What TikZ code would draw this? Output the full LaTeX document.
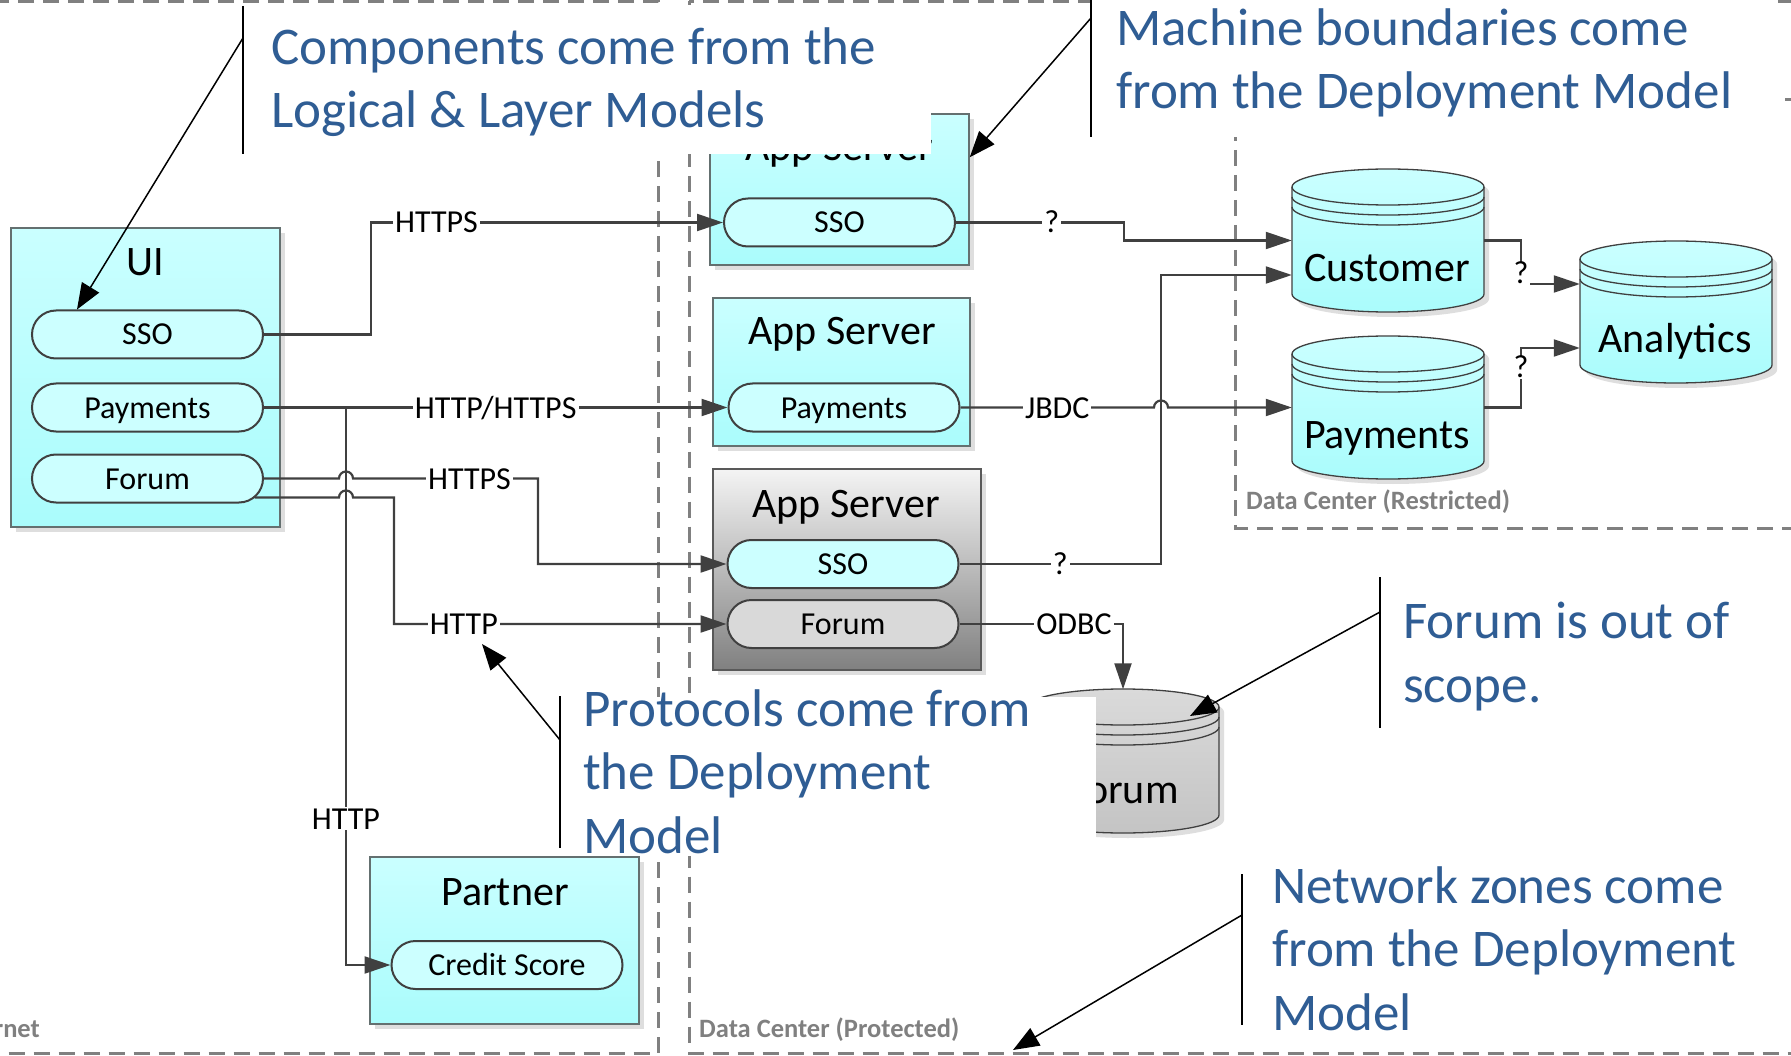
\documentclass[tikz,border=0pt]{standalone}
\usepackage{fontspec}
\setmainfont{Carlito}
\usetikzlibrary{arrows.meta,calc,shadows}

\definecolor{zonegray}{RGB}{128,128,128}
\definecolor{linegray}{RGB}{64,64,64}
\definecolor{cyantop}{RGB}{202,255,255}
\definecolor{cyanbot}{RGB}{170,252,252}
\definecolor{pillcyan}{RGB}{204,255,255}
\definecolor{boxedge}{RGB}{100,112,112}
\definecolor{noteblue}{RGB}{47,93,148}
\definecolor{greytop}{RGB}{244,244,244}
\definecolor{greybot}{RGB}{128,128,128}
\definecolor{pillgrey}{RGB}{217,217,217}
\definecolor{dbgreytop}{RGB}{218,218,218}
\definecolor{dbgreybot}{RGB}{196,196,196}
\definecolor{shadowgrey}{RGB}{222,222,222}

% database cylinder: left x, top y, right x, bottom y, top colour, bottom colour
\newcommand{\dbcyl}[6]{%
  \fill[shadowgrey] ({#1+5},{-(#2+18)-5}) -- ({#1+5},{-(#4-18)-5})
    arc[start angle=180,end angle=360,x radius={(#3-#1)/2},y radius=18]
    -- ({#3+5},{-(#2+18)-5})
    arc[start angle=0,end angle=180,x radius={(#3-#1)/2},y radius=18] -- cycle;
  \draw[cylline,top color=#5,bottom color=#6] ({#1},{-(#2+18)}) -- ({#1},{-(#4-18)})
    arc[start angle=180,end angle=360,x radius={(#3-#1)/2},y radius=18]
    -- ({#3},{-(#2+18)})
    arc[start angle=0,end angle=180,x radius={(#3-#1)/2},y radius=18] -- cycle;
  \foreach \cyldrop in {18,28,38}
    \draw[cylline] ({#1},{-(#2+\cyldrop)})
      arc[start angle=180,end angle=360,x radius={(#3-#1)/2},y radius=18];
}

\begin{document}
\begin{tikzpicture}[x=1pt,y=1pt,
  zone/.style={draw=zonegray, line width=3pt, dash pattern=on 16pt off 9pt},
  zonelabel/.style={text=zonegray, font=\fontsize{26.5}{30}\selectfont\bfseries, inner sep=0pt},
  shade/.style={drop shadow={shadow xshift=5pt, shadow yshift=-5pt, fill=shadowgrey, opacity=1}},
  cbox/.style={shade, draw=boxedge, line width=1.5pt, top color=cyantop, bottom color=cyanbot, inner sep=0pt},
  gbox/.style={shade, draw=black!65, line width=1.5pt, top color=greytop, bottom color=greybot, inner sep=0pt},
  title/.style={font=\fontsize{42}{48}\selectfont, inner sep=0pt, anchor=base},
  pill/.style={draw=linegray, line width=2pt, fill=pillcyan, rounded corners=24pt,
    minimum width=231pt, minimum height=48pt, inner sep=0pt,
    font=\fontsize{32}{36}\selectfont, text height=21pt, text depth=0pt},
  dbbox/.style={minimum width=192pt, minimum height=143pt, inner sep=0pt},
  cylline/.style={draw=linegray, line width=1.3pt},
  conn/.style={draw=linegray, line width=2.2pt, -{Triangle[length=26pt,width=17pt]}},
  lbl/.style={fill=white, inner xsep=2pt, inner ysep=1pt, font=\fontsize{32}{36}\selectfont,
    text height=21pt, text depth=0pt},
  note/.style={text=noteblue, font=\fontsize{53}{63.5}\selectfont, align=left, inner sep=0pt},
  bar/.style={draw=black, line width=1.5pt},
  pointer/.style={draw=black, line width=1.5pt, -{Triangle[length=26pt,width=20pt]}}
]
\useasboundingbox (0,0) rectangle (1791,-1056);
\clip (0,0) rectangle (1791,-1056);
\fill[white] (0,0) rectangle (1791,-1056);

% ---------- network zones ----------
\draw[zone] (-40,-1.5) rectangle (658,-1053);
\draw[zone] (689,-1.5) rectangle (1840,-1053);
\draw[zone] (1235,-100) rectangle (1840,-528);
\node[zonelabel, anchor=base east] (inetlbl) at (40,-1037) {Internet};
\node[zonelabel, anchor=base west] (protlbl) at (699,-1037) {Data Center (Protected)};
\node[zonelabel, anchor=base west] (restlbl) at (1246,-509) {Data Center (Restricted)};

% ---------- machines ----------
\node[cbox, minimum width=269pt, minimum height=299pt] (ui) at (145.5,-377.5) {};
\node[title] (uit) at (145,-276) {UI};
\node[pill] (uisso) at (147.5,-334.5) {SSO};
\node[pill] (uipay) at (147.5,-407.5) {Payments};
\node[pill] (uiforum) at (147.5,-478.5) {Forum};

\node[cbox, minimum width=259pt, minimum height=151pt] (as1) at (839.5,-189.5) {};
\node[title] (as1t) at (839,-161) {App Server};
\node[pill] (as1sso) at (839.5,-222.5) {SSO};

\node[cbox, minimum width=257pt, minimum height=148pt] (as2) at (841.5,-372) {};
\node[title] (as2t) at (842,-345) {App Server};
\node[pill] (as2pay) at (844,-407.5) {Payments};

\node[gbox, minimum width=268pt, minimum height=201pt] (as3) at (847,-569.5) {};
\node[title] (as3t) at (846,-517) {App Server};
\node[pill] (as3sso) at (843,-564) {SSO};
\node[pill, fill=pillgrey] (as3forum) at (843,-624) {Forum};

\node[cbox, minimum width=269pt, minimum height=167pt] (partner) at (504.5,-940.5) {};
\node[title] (partnert) at (505,-905) {Partner};
\node[pill] (crscore) at (507,-965) {Credit Score};

% ---------- databases ----------
\dbcyl{1292}{169}{1484}{312}{cyantop}{cyanbot}
\node[dbbox] (cust) at (1388,-240.5) {};
\node[title] (custt) at (1387,-282) {Customer};

\dbcyl{1292}{336}{1484}{479}{cyantop}{cyanbot}
\node[dbbox] (pcyl) at (1388,-407.5) {};
\node[title] (pcylt) at (1387,-448) {Payments};

\dbcyl{1580}{241}{1772}{383}{cyantop}{cyanbot}
\node[dbbox] (ana) at (1676,-312) {};
\node[title] (anat) at (1675,-353) {Analytics};

\dbcyl{1027}{689}{1219}{833}{dbgreytop}{dbgreybot}
\node[dbbox] (fcyl) at (1123,-761) {};
\node[title] (fcylt) at (1123,-803) {Forum};

% ---------- connectors ----------
\draw[conn] (uisso.east) -- ++(107,0) |- node[lbl,pos=0.593]{HTTPS} (as1sso.west);
\draw[conn] (uipay.east) -- node[lbl]{HTTP/HTTPS} (as2pay.west);
\coordinate (split) at (346,-407.5);
\draw[conn] (split) |- node[lbl,pos=0.369]{HTTP} (crscore.west);

\draw[conn] (uiforum.east) -- (339,-478.5) arc[start angle=180,end angle=0,radius=7]
  -- node[lbl,pos=0.63]{HTTPS} (538,-478.5) |- (as3sso.west);
\coordinate (uiforumlow) at ($(uiforum.east)+(-9.5,-19)$);
\draw[conn] (uiforumlow) -- (339,-497.5) arc[start angle=180,end angle=0,radius=7]
  -- (394,-497.5) |- node[lbl,pos=0.605]{HTTP} (as3forum.west);

\draw[conn] (as1sso.east) -- node[lbl,pos=0.57]{?} (1124,-222.5) |- (cust.west);
\coordinate (custin) at ($(cust.west)+(0,-34.5)$);
\draw[conn] (as3sso.east) -- node[lbl]{?} (1161,-564) |- (custin);
\draw[conn] (as2pay.east) -- node[lbl]{JBDC} (1154,-407.5) arc[start angle=180,end angle=0,radius=7]
  -- (pcyl.west);
\draw[conn] (as3forum.east) -- node[lbl,pos=0.7]{ODBC} (as3forum.east -| fcyl.north) -- (fcyl.north);

\coordinate (anain1) at ($(ana.west)+(0,28)$);
\coordinate (anain2) at ($(ana.west)+(0,-36)$);
\draw[conn] (cust.east) -- (1521,-240.5) -- node[lbl,pos=0.75]{?} (1521,-284) -- (anain1);
\draw[conn] (pcyl.east) -- (1521,-407.5) -- node[lbl,pos=0.68]{?} (1521,-348) -- (anain2);

% ---------- callouts (multi-line notes are placed by the baseline of their last line) ----------
\fill[white] (243,-5) rectangle (931,-154);
\node[note, anchor=base west] (n1) at (271,-128) {Components come from the\\Logical \& Layer Models};
\draw[bar] (243,-6) -- (243,-154);
\coordinate (n1arm) at (243,-38);
\coordinate (n1tip) at ($(uisso.north west)+(46,0)$);
\draw[pointer] (n1arm) -- (n1tip);

\fill[white] (1091,2) rectangle (1777,-137);
\node[note, anchor=base west] (n2) at (1116,-109) {Machine boundaries come\\from the Deployment Model};
\draw[bar] (1091,0) -- (1091,-137);
\coordinate (n2arm) at (1091,-18);
\coordinate (n2tip) at ($(as1.north east)+(0,-44)$);
\draw[pointer] (n2arm) -- (n2tip);

\fill[white] (560,-697) rectangle (1096,-856);
\node[note, anchor=base west] (n3) at (583,-853) {Protocols come from\\the Deployment\\Model};
\draw[bar] (560,-696) -- (560,-848);
\coordinate (n3arm) at (560,-740);
\coordinate (n3tip) at (482,-644);
\draw[pointer] (n3arm) -- (n3tip);

\node[note, anchor=base west] (n4) at (1403,-702) {Forum is out of\\scope.};
\draw[bar] (1380,-577) -- (1380,-728);
\coordinate (n4arm) at (1380,-612);
\coordinate (n4tip) at (1190,-716);
\draw[pointer] (n4arm) -- (n4tip);

\node[note, anchor=base west] (n5) at (1272,-1030) {Network zones come\\from the Deployment\\Model};
\draw[bar] (1242,-874) -- (1242,-1025);
\coordinate (n5arm) at (1242,-915);
\coordinate (n5tip) at (1013,-1050);
\draw[pointer] (n5arm) -- (n5tip);
\end{tikzpicture}
\end{document}
